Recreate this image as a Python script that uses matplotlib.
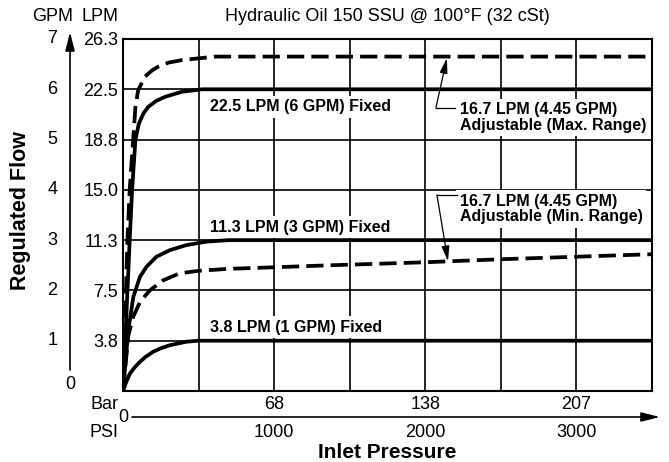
import matplotlib.pyplot as plt

plt.rcParams['font.family'] = ['Liberation Sans', 'DejaVu Sans']

# curves: x in PSI, y in GPM
psi_6gpm = [0, 44, 60, 82, 104, 135, 167, 220, 278, 389, 522, 3500]
gpm_6gpm = [0, 3.0, 4.0, 5.0, 5.31, 5.52, 5.65, 5.77, 5.85, 5.95, 6.0, 6.0]

psi_max = [0, 29, 44, 67, 82, 100, 144, 190, 233, 300, 389, 611, 3500]
gpm_max = [0, 3.0, 4.0, 5.0, 5.65, 5.98, 6.25, 6.37, 6.45, 6.53, 6.58, 6.65, 6.65]

psi_3gpm = [0, 35, 68, 112, 155, 221, 309, 418, 550, 700, 3500]
gpm_3gpm = [0, 1.21, 1.87, 2.27, 2.47, 2.67, 2.80, 2.90, 2.97, 3.0, 3.0]

psi_min = [0, 35, 68, 112, 177, 265, 374, 500, 700, 1000, 1368, 2000, 2500, 3000, 3500]
gpm_min = [0, 1.1, 1.48, 1.77, 2.0, 2.2, 2.34, 2.39, 2.43, 2.46, 2.50, 2.56, 2.62, 2.67, 2.72]

psi_1gpm = [0, 20, 46, 80, 112, 150, 199, 250, 309, 418, 500, 3500]
gpm_1gpm = [0, 0.17, 0.35, 0.48, 0.58, 0.68, 0.78, 0.85, 0.91, 0.98, 1.0, 1.0]

grid_psi = [500, 1000, 1500, 2000, 2500, 3000]
gpm_ticks = [0, 1, 2, 3, 4, 5, 6, 7]
gpm_labels = ['', '1', '2', '3', '4', '5', '6', '7']
lpm_labels = ['', '3.8', '7.5', '11.3', '15.0', '18.8', '22.5', '26.3']
psi_ticks = [1000, 2000, 3000]
psi_labels = ['1000', '2000', '3000']
bar_labels = ['68', '138', '207']

fig = plt.figure(figsize=(6.69, 4.62), dpi=100)
ax = fig.add_axes([0.1839, 0.1537, 0.7907, 0.7619])
ax.set_xlim(0, 3500)
ax.set_ylim(0, 7)

ax.set_xticks(grid_psi)
ax.set_yticks(gpm_ticks, lpm_labels)
ax.tick_params(length=0, labelbottom=False, labelsize=13, pad=3.5)
ax.grid(True, color='black', lw=1.2)
ax.set_axisbelow(True)
for s in ax.spines.values():
    s.set_linewidth(1.5)

lw = 2.7
ax.plot(psi_6gpm, gpm_6gpm, color='black', lw=lw, zorder=5)
ax.plot(psi_max, gpm_max, color='black', lw=lw, dashes=(4.6, 1.9), zorder=5)
ax.plot(psi_3gpm, gpm_3gpm, color='black', lw=lw, zorder=5)
ax.plot(psi_min, gpm_min, color='black', lw=lw, dashes=(4.6, 1.9), zorder=5)
ax.plot(psi_1gpm, gpm_1gpm, color='black', lw=lw, zorder=5)

box = dict(facecolor='white', edgecolor='none', pad=2.5)
lab = dict(fontsize=11.5, fontweight='bold', ha='left', va='center', bbox=box, zorder=4)
ax.text(575, 5.65, '22.5 LPM (6 GPM) Fixed', **lab)
ax.text(575, 3.26, '11.3 LPM (3 GPM) Fixed', **lab)
ax.text(575, 1.27, '3.8 LPM (1 GPM) Fixed', **lab)
ax.text(2229, 5.44, '16.7 LPM (4.45 GPM)\nAdjustable (Max. Range)', linespacing=1.05, **lab)
ax.text(2229, 3.62, '16.7 LPM (4.45 GPM)\nAdjustable (Min. Range)', linespacing=1.05, **lab)

# leaders to the dashed curves
arr = dict(arrowstyle='-|>,head_length=0.7,head_width=0.18', color='black', lw=0.9,
           mutation_scale=13, shrinkA=0, shrinkB=0)
ax.plot([2070, 2196], [5.63, 5.63], color='black', lw=0.9, zorder=6)
ax.annotate('', xy=(2143, 6.62), xytext=(2070, 5.63), arrowprops=arr, zorder=6)
ax.plot([2077, 2209], [3.90, 3.90], color='black', lw=0.9, zorder=6)
ax.annotate('', xy=(2150, 2.58), xytext=(2077, 3.90), arrowprops=arr, zorder=6)

# left side: GPM scale and arrow
ytr = ax.get_yaxis_transform()
for g, t in zip(gpm_ticks, gpm_labels):
    ax.text(-0.134, g, t, transform=ytr, fontsize=13, ha='center', va='center')
ax.text(-0.1002, 0.12, '0', transform=ytr, fontsize=13, ha='center', va='center')
big = dict(arrowstyle='-|>,head_length=0.8,head_width=0.2', color='black', lw=1.2,
           mutation_scale=14, shrinkA=0, shrinkB=0)
ax.annotate('', xy=(-0.1002, 1.0199), xytext=(-0.1002, 0.0597), xycoords='axes fraction',
            arrowprops=big, annotation_clip=False)
ax.text(-0.134, 1.0625, 'GPM', transform=ax.transAxes, fontsize=13, ha='center', va='center')
ax.text(-0.0095, 1.0625, 'LPM', transform=ax.transAxes, fontsize=13, ha='right', va='center')
ax.text(0.5, 1.0625, 'Hydraulic Oil 150 SSU @ 100°F (32 cSt)', transform=ax.transAxes,
        fontsize=13, ha='center', va='center')
ax.text(-0.1947, 0.514, 'Regulated Flow', transform=ax.transAxes, fontsize=15.5,
        fontweight='bold', rotation=90, ha='center', va='center')

# bottom: Bar and PSI scales
xtr = ax.get_xaxis_transform()
for p, b, s in zip(psi_ticks, bar_labels, psi_labels):
    ax.text(p, -0.037, b, transform=xtr, fontsize=13, ha='center', va='center')
    ax.text(p, -0.118, s, transform=xtr, fontsize=13, ha='center', va='center')
ax.text(-0.0095, -0.037, 'Bar', transform=ax.transAxes, fontsize=13, ha='right', va='center')
ax.text(-0.0095, -0.118, 'PSI', transform=ax.transAxes, fontsize=13, ha='right', va='center')
ax.text(0, -0.0767, '0', transform=xtr, fontsize=13, ha='center', va='center')
ax.annotate('', xy=(1.0151, -0.0739), xytext=(0.017, -0.0739), xycoords='axes fraction',
            arrowprops=big, annotation_clip=False)
ax.text(0.499, -0.175, 'Inlet Pressure', transform=ax.transAxes, fontsize=15,
        fontweight='bold', ha='center', va='center')

fig.savefig('out.png', dpi=100)
